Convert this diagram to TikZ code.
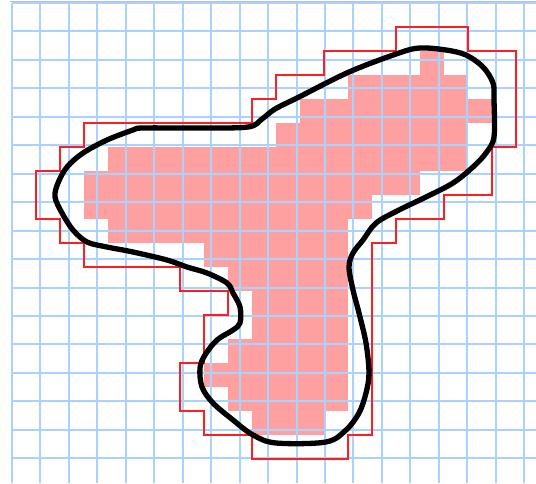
\documentclass[tikz,border=0pt]{standalone}
\definecolor{gridblue}{RGB}{170,210,255}
\definecolor{cellpink}{RGB}{255,160,160}
\definecolor{outred}{RGB}{255,30,30}
\tikzset{
  gridline/.style={draw=gridblue, line width=2pt},
  cellfill/.style={fill=cellpink},
  outline/.style={draw=outred, line width=1.6pt, line join=miter},
  blob/.style={draw=black, line width=5.3pt, line join=round, line cap=round}
}
\begin{document}
\begin{tikzpicture}[x=1pt,y=-1pt]
\useasboundingbox (0,0) rectangle (536,483);
\fill[white] (0,0) rectangle (536,483);
\clip (0,0) rectangle (536,483);
\draw[black!25, line width=1.5pt] (10,1.5) -- (536,1.5);
\begin{scope}[shift={(12,3)}, x=24pt, y=-24pt]
  \foreach \r/\a/\b in {2/17/17, 3/14/18, 4/12/19, 5/11/18, 6/4/18, 7/3/16, 8/3/14, 9/4/13, 10/8/13, 11/9/13, 12/10/13, 13/10/13, 14/9/13, 15/8/13, 16/9/13, 17/10/12}
    \foreach \c in {\a,...,\b}
      \fill[cellfill] (\c,\r) rectangle ++(1,1);
  \draw[gridline] (0,0) grid (22,20);
  \draw[outline] (3,5) -- (10,5) -- (10,4) -- (11,4) -- (11,3) -- (13,3) -- (13,2) -- (16,2) -- (16,1) -- (19,1) -- (19,2) -- (21,2) -- (21,6) -- (20,6) -- (20,8) -- (18,8) -- (18,9) -- (16,9) -- (16,10) -- (15,10) -- (15,18) -- (14,18) -- (14,19) -- (10,19) -- (10,18) -- (8,18) -- (8,17) -- (7,17) -- (7,15) -- (8,15) -- (8,13) -- (9,13) -- (9,12) -- (7,12) -- (7,11) -- (3,11) -- (3,10) -- (2,10) -- (2,9) -- (1,9) -- (1,7) -- (2,7) -- (2,6) -- (3,6) -- cycle;
\end{scope}
\draw[blob] plot[smooth cycle, tension=0.55] coordinates {
  (143,128) (200,128) (248,127) (262,119) (275,109) (299,97) (349,72) (399,53) (420,48) (446,50) (466,55) (483,67) (493,83) (494,100) (494,137) (486,153) (473,167) (453,183) (426,197) (399,210) (376,223) (363,240) (353,253) (349,267) (353,290) (359,313) (366,343) (369,373) (366,393) (359,413) (346,430) (326,442) (276,443) (253,435) (233,420) (213,403) (202,387) (200,368) (205,355) (217,340) (233,330) (240,323) (240,307) (233,293) (227,283) (207,273) (187,267) (167,260) (133,252) (107,247) (87,242) (73,230) (62,213) (55,197) (58,183) (67,167) (83,153) (107,140) (133,130)
};
\end{tikzpicture}
\end{document}
